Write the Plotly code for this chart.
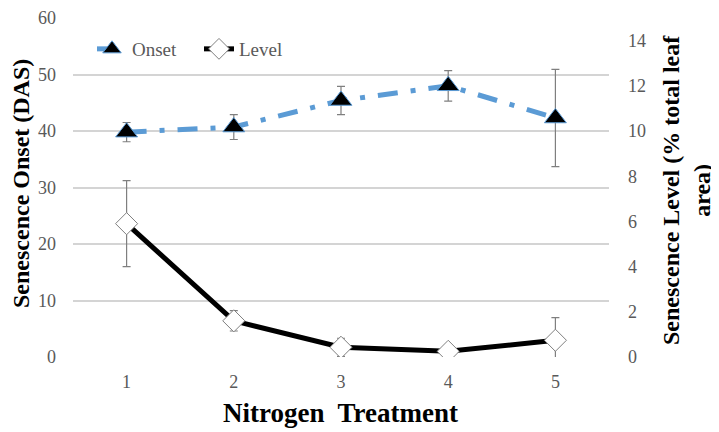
import plotly.graph_objects as go

treatments = [1, 2, 3, 4, 5]
onset = [39.8, 40.7, 45.4, 48.0, 42.3]
onset_err = [1.7, 2.2, 2.5, 2.7, 8.6]
level = [5.9, 1.6, 0.43, 0.25, 0.74]
level_err = [1.9, 0.45, 0.4, 0.1, 1.0]
left_ticks = [0, 10, 20, 30, 40, 50, 60]
right_ticks = [0, 2, 4, 6, 8, 10, 12, 14]

serif = "Liberation Serif, Times New Roman, serif"
tick_font = dict(family=serif, size=18, color="#595959")
title_font = dict(family=serif, size=24, color="black")

# page body has an 8px margin; figure is sized so it ends at the window edge
W, H = 711, 424
L, T, R, B = 65, 10, 110, 75
PW, PH = W - L - R, H - T - B


def px(xabs):
    return (xabs - 8 - L) / PW


def py(yabs):
    return (T + PH - (yabs - 8)) / PH


fig = go.Figure()
fig.add_trace(go.Scatter(
    x=treatments, y=onset, name="Onset", mode="lines+markers",
    line=dict(color="#5b9bd5", width=5, dash="20px,13px,5px,13px"),
    marker=dict(symbol="triangle-up", size=19, color="black",
                line=dict(color="#5b9bd5", width=1)),
    error_y=dict(type="data", array=onset_err, color="#7f7f7f", thickness=1.2, width=4),
    yaxis="y",
))
fig.add_trace(go.Scatter(
    x=treatments, y=level, name="Level", mode="lines+markers",
    line=dict(color="black", width=5),
    marker=dict(symbol="diamond", size=17, color="white",
                line=dict(color="#7f7f7f", width=1)),
    error_y=dict(type="data", array=level_err, color="#7f7f7f", thickness=1.2, width=4),
    yaxis="y2",
))

fig.update_layout(
    width=W, height=H,
    paper_bgcolor="white", plot_bgcolor="white",
    margin=dict(l=L, r=R, t=T, b=B),
    showlegend=True,
    legend=dict(orientation="h", x=px(92), y=py(30), xanchor="left", yanchor="top",
                font=dict(family=serif, size=19, color="#595959"),
                bgcolor="rgba(0,0,0,0)", entrywidth=62),
    xaxis=dict(range=[0.5, 5.5], tickvals=treatments, ticktext=[str(t) for t in treatments],
               showgrid=False, zeroline=False, showline=False, ticks="",
               tickfont=tick_font, automargin=False, ticklabelstandoff=12),
    yaxis=dict(range=[0, 60], tickvals=left_ticks, showgrid=True, gridcolor="#d4d4d4",
               gridwidth=2, zeroline=False, showline=False, ticks="",
               tickfont=tick_font, automargin=False, ticklabelstandoff=16),
    yaxis2=dict(range=[0, 15], tickvals=right_ticks, overlaying="y", side="right",
                showgrid=False, zeroline=False, showline=False, ticks="",
                tickfont=tick_font, automargin=False, ticklabelstandoff=18),
    annotations=[
        dict(text="<b>Senescence Onset (DAS)</b>", font=title_font, textangle=-90,
             xref="paper", yref="paper", x=px(21), y=py(184),
             xanchor="center", yanchor="middle", showarrow=False),
        dict(text="<b>Senescence Level (% total leaf<br>area)</b>", font=title_font,
             textangle=-90, xref="paper", yref="paper", x=px(686),
             y=py(190), xanchor="center", yanchor="middle", showarrow=False),
        dict(text="<b>Nitrogen&nbsp; Treatment</b>", font=dict(family=serif, size=27, color="black"),
             xref="paper", yref="paper", x=px(340), y=py(413),
             xanchor="center", yanchor="middle", showarrow=False),
    ],
)

fig.write_html("out.html")
